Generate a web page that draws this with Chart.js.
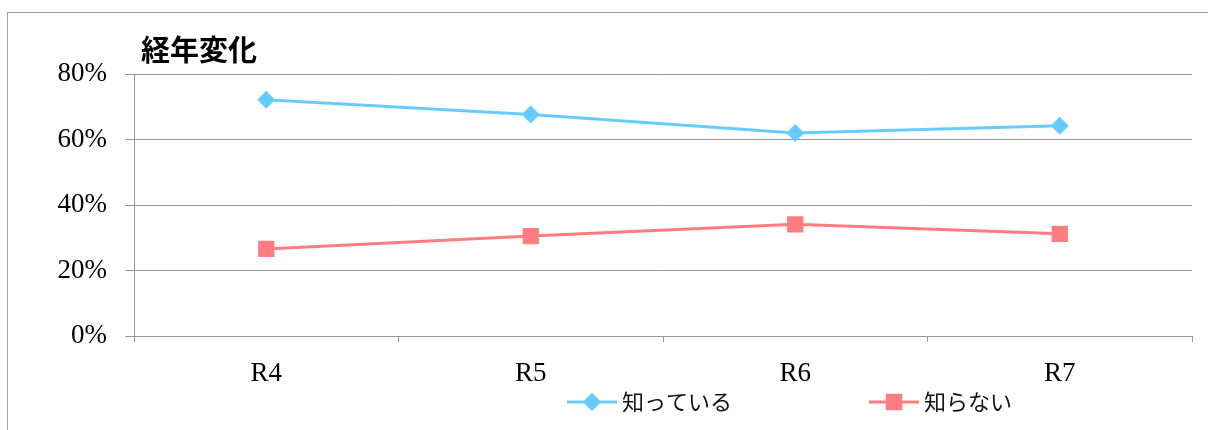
<!DOCTYPE html>
<html><head><meta charset="utf-8">
<script src="https://cdn.jsdelivr.net/npm/chart.js@4"></script>
<style>html,body{margin:0;padding:0;background:#fff}canvas{display:block}</style>
</head><body>
<canvas id="c" width="1208" height="430"></canvas>
<script>
const categories = ["R4", "R5", "R6", "R7"];
const seriesNames = ["知っている", "知らない"];
const knowValues = [72.1, 67.6, 62.0, 64.2];
const notKnowValues = [26.6, 30.5, 34.1, 31.2];
const yTicks = [0, 20, 40, 60, 80];
const titleText = "経年変化";

const BLUE = "#66ccff", RED = "#ff7c80", GRID = "#999999";
const serif = "'Liberation Serif', 'DejaVu Serif', serif";
const jp = "'Noto Sans CJK JP', sans-serif";

const decor = {
  id: "decor",
  beforeDraw(chart) {
    const ctx = chart.ctx;
    ctx.save();
    ctx.fillStyle = "#fff";
    ctx.fillRect(0, 0, chart.width, chart.height);
    ctx.strokeStyle = "#a0a0a0";
    ctx.lineWidth = 1;
    ctx.strokeRect(7.5, 12.5, 1400, 600);
    ctx.restore();
  },
  afterDraw(chart) {
    const ctx = chart.ctx;
    const area = chart.chartArea;
    ctx.save();
    // title
    ctx.fillStyle = "#000";
    ctx.font = "bold 29px " + jp;
    ctx.textBaseline = "middle";
    ctx.textAlign = "left";
    ctx.fillText(titleText, area.left + 7, 50);
    // legend
    const items = [
      { x: 567, color: BLUE, style: "rectRot", r: 9, name: seriesNames[0] },
      { x: 869, color: RED, style: "rect", r: 11.5, name: seriesNames[1] }
    ];
    const ly = 402;
    ctx.font = "22px " + jp;
    items.forEach(it => {
      ctx.strokeStyle = it.color;
      ctx.lineWidth = 3;
      ctx.beginPath();
      ctx.moveTo(it.x, ly);
      ctx.lineTo(it.x + 50, ly);
      ctx.stroke();
      ctx.fillStyle = it.color;
      Chart.helpers.drawPoint(ctx, { pointStyle: it.style, radius: it.r, borderWidth: 0 }, it.x + 25, ly);
      ctx.fill();
      ctx.fillStyle = "#111";
      ctx.fillText(it.name, it.x + 55, ly);
    });
    ctx.restore();
  }
};

new Chart(document.getElementById("c"), {
  type: "line",
  data: {
    labels: categories,
    datasets: [
      {
        label: seriesNames[0], data: knowValues,
        borderColor: BLUE, backgroundColor: BLUE, borderWidth: 3,
        pointStyle: "rectRot", pointRadius: 9, pointHoverRadius: 9,
        pointBorderWidth: 0, tension: 0
      },
      {
        label: seriesNames[1], data: notKnowValues,
        borderColor: RED, backgroundColor: RED, borderWidth: 3,
        pointStyle: "rect", pointRadius: 11.5, pointHoverRadius: 11.5,
        pointBorderWidth: 0, tension: 0
      }
    ]
  },
  options: {
    responsive: false,
    animation: false,
    devicePixelRatio: 1,
    layout: { padding: { left: 0, top: 74, right: 16, bottom: 0 } },
    plugins: { legend: { display: false }, title: { display: false }, tooltip: { enabled: false } },
    scales: {
      x: {
        offset: true,
        grid: { offset: true, drawOnChartArea: false, color: GRID, tickLength: 6 },
        border: { color: GRID, width: 1 },
        ticks: { color: "#000", font: { family: serif, size: 27 }, padding: 16, maxRotation: 0 },
        afterFit(s) { s.height = 94; }
      },
      y: {
        min: 0, max: 80,
        afterBuildTicks(s) { s.ticks = yTicks.map(v => ({ value: v })); },
        grid: { color: GRID, tickLength: 9 },
        border: { color: GRID, width: 1 },
        ticks: { color: "#000", font: { family: serif, size: 27 }, padding: 18, callback: v => v + "%" },
        afterFit(s) { s.width = 134; }
      }
    }
  },
  plugins: [decor]
});
</script>
</body></html>
